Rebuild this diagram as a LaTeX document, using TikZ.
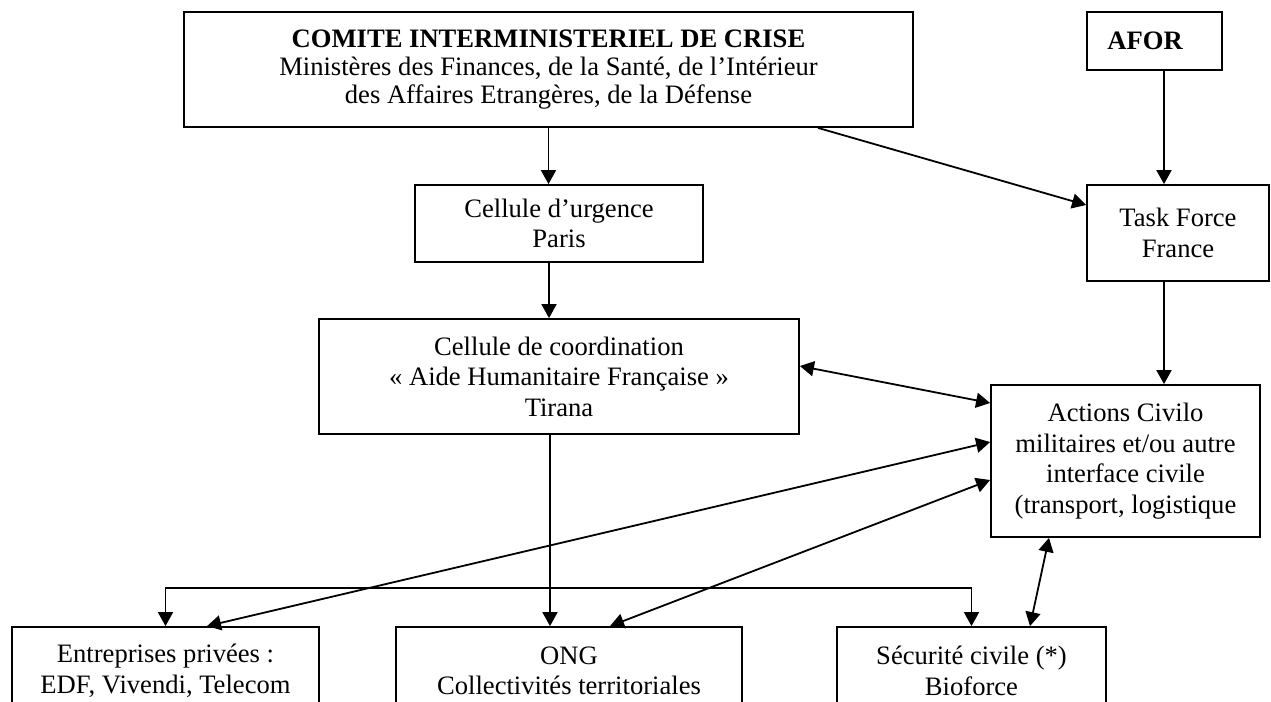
\documentclass[tikz,border=0pt]{standalone}
\usepackage{fontspec}
\setmainfont{Liberation Serif}
\usetikzlibrary{arrows.meta}
\begin{document}
\begin{tikzpicture}[x=0.5pt,y=-0.5pt,
  box/.style={draw, line width=0.9pt, align=center, inner sep=0pt,
    font=\fontsize{13.3}{15.3}\selectfont},
  arr/.style={line width=0.9pt, -{Triangle[length=7pt,width=7.5pt]}},
  darr/.style={line width=0.9pt, {Triangle[length=7pt,width=7.5pt]}-{Triangle[length=7pt,width=7.5pt]}},
  ]
\useasboundingbox (0,0) rectangle (1271,702);
\clip (0,0) rectangle (1271,702);

\node[box, minimum width=364.5pt, minimum height=57.5pt,
  font=\fontsize{13.3}{14}\selectfont] (comite) at (548.5,69.5)
  {\textbf{COMITE INTERMINISTERIEL DE CRISE}\\
   Ministères des Finances, de la Santé, de l’Intérieur\\
   des Affaires Etrangères, de la Défense};
\node[box, minimum width=67.5pt, minimum height=29pt] (afor) at (1154.5,41)
  {\textbf{AFOR}\hspace{0.7em}};
\node[box, minimum width=91pt, minimum height=48pt] (task) at (1178,233)
  {Task Force\\France};
\node[box, minimum width=144pt, minimum height=38.5pt] (urgence) at (559,223.5)
  {Cellule d’urgence\\Paris};
\node[box, minimum width=240pt, minimum height=57.5pt] (coord) at (559,376.5)
  {Cellule de coordination\\« Aide Humanitaire Française »\\Tirana};
\node[box, minimum width=134.5pt, minimum height=76pt] (actions) at (1125.5,461)
  {Actions Civilo\\militaires et/ou autre\\interface civile\\(transport, logistique};
\node[box, minimum width=153.5pt, minimum height=44pt] (ent) at (165.5,671)
  {Entreprises privées :\\EDF, Vivendi, Telecom};
\node[box, minimum width=173pt, minimum height=44pt] (ong) at (569,671)
  {ONG\\Collectivités territoriales};
\node[box, minimum width=134.5pt, minimum height=44pt] (secu) at (971.5,671)
  {Sécurité civile (*)\\Bioforce};

\draw[arr] (comite.south) -- (comite.south |- urgence.north);
\draw[arr] ([shift={(269.5,0)}]comite.south) -- ([shift={(0,-28)}]task.west);
\draw[arr] ([shift={(9.5,0)}]afor.south) -- ([shift={(-14,0)}]task.north);
\draw[arr] ([shift={(-10,0)}]urgence.south) -- ([shift={(-10,0)}]coord.north);
\draw[arr] ([shift={(-14,0)}]task.south) -- ([shift={(38.5,0)}]actions.north);
\draw[darr] ([shift={(0,-10.5)}]coord.east) -- ([shift={(0,-58)}]actions.west);
\draw[darr] ([shift={(41.5,0)}]ent.north) -- ([shift={(0,-19)}]actions.west);
\draw[darr] ([shift={(41,0)}]ong.north) -- ([shift={(0,19)}]actions.west);
\draw[darr] ([shift={(-76.5,0)}]actions.south) -- ([shift={(58.5,0)}]secu.north);
\draw[arr] ([shift={(-9,0)}]coord.south) -- ([shift={(-19,0)}]ong.north);
\coordinate (br) at (550,588);
\draw[arr] (br) -| (ent.north);
\draw[arr] (br) -| (secu.north);
\end{tikzpicture}
\end{document}
